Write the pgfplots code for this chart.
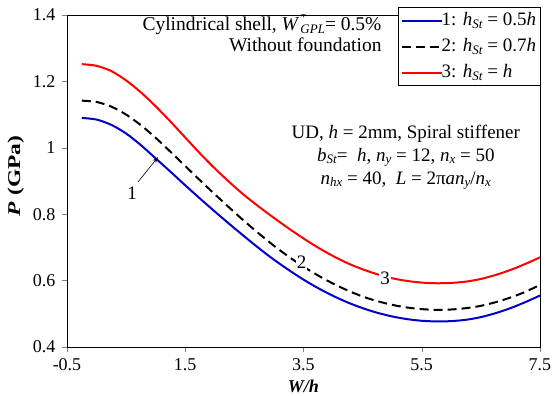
\documentclass[border=0pt]{standalone}
\usepackage{fontspec}
\setmainfont{Liberation Serif}
\usepackage{graphicx}
\usepackage{pgfplots}
\pgfplotsset{compat=1.18}
\usetikzlibrary{arrows.meta}
\newcommand{\fs}{\fontsize{19}{22}\selectfont}
\newcommand{\ft}{\fontsize{18}{21}\selectfont}
\newcommand{\sub}[1]{\raisebox{-0.3ex}{\fontsize{13}{13}\selectfont\textit{#1}}}
\newcommand{\sups}[1]{\rlap{\raisebox{1.0ex}{\fontsize{13}{13}\selectfont #1}}}
\begin{document}
\fs
\begin{tikzpicture}
\begin{axis}[
  scale only axis, width=473pt, height=332pt,
  xmin=-0.5, xmax=7.5, ymin=0.4, ymax=1.4,
  xtick={-0.5,1.5,3.5,5.5,7.5}, ytick={0.4,0.6,...,1.41},
  tick align=outside, xtick pos=left, ytick pos=left,
  major tick length=5pt,
  /pgf/number format/assume math mode=true,
  tick label style={font=\ft},
  yticklabel style={/pgf/number format/fixed},
  xlabel={\textbf{\textit{W/h}}},
  ylabel={\scalebox{1.3}[1]{\textbf{\textit{P} (GPa)}}},
  label style={font=\ft},
  xlabel style={at={(axis description cs:0.5,-0.1175)}, anchor=center},
  ylabel style={at={(axis description cs:-0.108,0.515)}, anchor=center},
  axis line style={line width=0.8pt},
  legend style={at={(0.70,1.024)}, anchor=north west, draw=black, line width=1.2pt,
    font=\fs, row sep=6pt, inner xsep=2pt, inner ysep=3pt,
    legend cell align=left},
  legend image code/.code={\draw[#1, line width=2pt] (0pt,0pt) -- (40pt,0pt);},
]
\addplot[blue!80!black, line width=2pt, smooth] coordinates {
(-0.25,1.090) (0,1.085) (0.25,1.069) (0.5,1.043) (0.75,1.008) (1.0,0.968)
(1.25,0.928) (1.5,0.887) (1.75,0.847) (2.0,0.808) (2.25,0.770) (2.5,0.733)
(2.75,0.697) (3.0,0.663) (3.25,0.632) (3.5,0.603) (3.75,0.577) (4.0,0.554)
(4.25,0.534) (4.5,0.517) (4.75,0.503) (5.0,0.492) (5.25,0.484) (5.5,0.479)
(5.75,0.477) (6.0,0.478) (6.25,0.482) (6.5,0.490) (6.75,0.502) (7.0,0.517)
(7.25,0.535) (7.5,0.555)};
\addlegendentry{\hspace{-3pt}1: \textit{h}\sub{St} = 0.5\textit{h}}
\addplot[black, line width=2pt, dash pattern=on 9pt off 5pt, smooth] coordinates {
(-0.25,1.142) (0,1.138) (0.25,1.124) (0.5,1.100) (0.75,1.068) (1.0,1.030)
(1.25,0.988) (1.5,0.945) (1.75,0.902) (2.0,0.860) (2.25,0.819) (2.5,0.779)
(2.75,0.741) (3.0,0.705) (3.25,0.672) (3.5,0.642) (3.75,0.615) (4.0,0.591)
(4.25,0.570) (4.5,0.552) (4.75,0.538) (5.0,0.527) (5.25,0.519) (5.5,0.514)
(5.75,0.512) (6.0,0.513) (6.25,0.517) (6.5,0.524) (6.75,0.535) (7.0,0.549)
(7.25,0.566) (7.5,0.587)};
\addlegendentry{\hspace{-3pt}2: \textit{h}\sub{St} = 0.7\textit{h}}
\addplot[red, line width=2pt, smooth] coordinates {
(-0.25,1.252) (0,1.247) (0.25,1.231) (0.5,1.203) (0.75,1.167) (1.0,1.125)
(1.25,1.079) (1.5,1.031) (1.75,0.983) (2.0,0.938) (2.25,0.896) (2.5,0.857)
(2.75,0.822) (3.0,0.789) (3.25,0.757) (3.5,0.727) (3.75,0.699) (4.0,0.674)
(4.25,0.652) (4.5,0.634) (4.75,0.619) (5.0,0.607) (5.25,0.599) (5.5,0.594)
(5.75,0.592) (6.0,0.593) (6.25,0.597) (6.5,0.605) (6.75,0.617) (7.0,0.632)
(7.25,0.650) (7.5,0.670)};
\addlegendentry{\hspace{-3pt}3: \textit{h}\sub{St} = \textit{h}}
\node[align=right, anchor=east, font=\fontsize{19.5}{21}\selectfont] at (axis cs:4.93,1.348)
  {Cylindrical shell, \textit{W}\kern1pt\sups{*}\sub{GPL}= 0.5\%\\Without foundation};
\node[align=center, font=\fontsize{19}{23}\selectfont] at (axis cs:5.23,0.972)
  {UD, \textit{h} = 2mm, Spiral stiffener\\
   \textit{b}\sub{St}=\ \ \textit{h}, \textit{n}\sub{y} = 12, \textit{n}\sub{x} = 50\\
   \textit{n}\sub{hx} = 40,\ \ \textit{L} = 2π\textit{an}\sub{y}/\textit{n}\sub{x}};
\draw[-{Stealth[length=6pt,width=4pt]}, line width=0.6pt] (axis cs:0.7,0.897) -- (axis cs:1.04,0.972);
\node[font=\fs] at (axis cs:0.6,0.864) {1};
\node[fill=white, inner sep=1pt, font=\fs] at (axis cs:3.47,0.655) {2};
\node[fill=white, inner sep=1pt, font=\fs] at (axis cs:4.88,0.607) {3};
\end{axis}
\pgfresetboundingbox
\path (-67pt,-49pt) rectangle (491pt,347pt);
\end{tikzpicture}
\end{document}
